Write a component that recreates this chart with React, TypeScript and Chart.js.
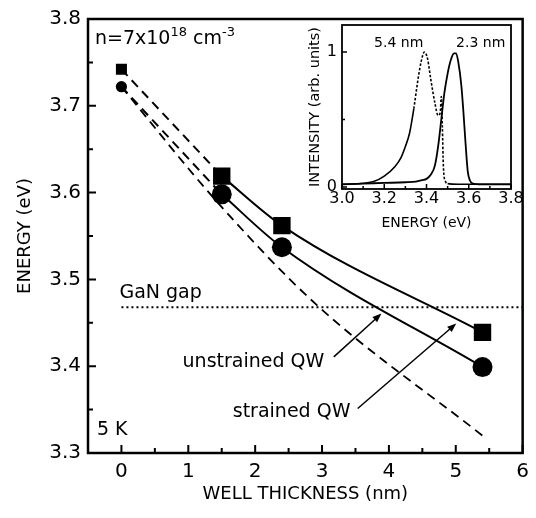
import React, { useEffect, useRef } from "react";
import { Chart, registerables } from "chart.js";

Chart.register(...registerables);

// ---------- main panel data ----------
const WELL_NM = [0, 1.5, 2.4, 5.4];
const SQUARE_EV = [3.742, 3.619, 3.562, 3.439];
const CIRCLE_EV = [3.722, 3.598, 3.537, 3.399];
const LONG_DASH_NM = [0, 1.4, 2.9, 5.4];
const LONG_DASH_EV = [3.722, 3.592, 3.472, 3.32];
const GAN_GAP_EV = 3.468;
const GAN_GAP_NM = [0, 6];
const X_TICKS = [0, 1, 2, 3, 4, 5, 6];
const X_MINOR = [0.5, 1.5, 2.5, 3.5, 4.5, 5.5];
const Y_TICKS = [3.3, 3.4, 3.5, 3.6, 3.7, 3.8];
const Y_MINOR = [3.35, 3.45, 3.55, 3.65, 3.75];

// ---------- inset data ----------
const E_54 = [3.0, 3.05, 3.1, 3.15, 3.2, 3.25, 3.28, 3.3, 3.32, 3.34, 3.36, 3.375, 3.39, 3.405, 3.42, 3.44, 3.455, 3.465, 3.47, 3.475, 3.48, 3.49, 3.5, 3.55, 3.6, 3.7, 3.8];
const I_54 = [0.02, 0.022, 0.028, 0.04, 0.08, 0.15, 0.22, 0.3, 0.4, 0.58, 0.8, 0.93, 1.0, 0.95, 0.8, 0.62, 0.53, 0.55, 0.67, 0.45, 0.15, 0.04, 0.025, 0.02, 0.02, 0.02, 0.02];
const E_23 = [3.0, 3.1, 3.2, 3.3, 3.35, 3.38, 3.4, 3.42, 3.44, 3.455, 3.47, 3.485, 3.5, 3.515, 3.53, 3.54, 3.55, 3.565, 3.575, 3.585, 3.595, 3.605, 3.62, 3.65, 3.7, 3.8];
const I_23 = [0.02, 0.025, 0.03, 0.035, 0.04, 0.05, 0.06, 0.09, 0.16, 0.3, 0.5, 0.7, 0.84, 0.94, 0.99, 0.99, 0.93, 0.75, 0.55, 0.32, 0.12, 0.05, 0.025, 0.02, 0.02, 0.02];
const INSET_X_TICKS = [3.0, 3.2, 3.4, 3.6, 3.8];
const INSET_X_MINOR = [3.1, 3.3, 3.5, 3.7];
const INSET_Y_TICKS = [0, 1];
const INSET_Y_MINOR = [0.5];

const FONT = "'DejaVu Sans', sans-serif";

const pts = (xs: number[], ys: number[]) => xs.map((x, i) => ({ x, y: ys[i] }));

function framePlugin(o: {
  frame: number; tw: number; major: number; minor: number;
  xMajor: number[]; xMinor: number[]; yMajor: number[]; yMinor: number[];
}) {
  return {
    id: "frameTicks",
    afterDraw(chart: any) {
      const { ctx, chartArea: a } = chart;
      const x = chart.scales.x, y = chart.scales.y;
      ctx.save();
      ctx.strokeStyle = "#000";
      ctx.lineWidth = o.tw;
      ctx.beginPath();
      const xt = (v: number, len: number) => {
        const p = x.getPixelForValue(v);
        ctx.moveTo(p, a.bottom);
        ctx.lineTo(p, a.bottom - len);
      };
      const yt = (v: number, len: number) => {
        const p = y.getPixelForValue(v);
        ctx.moveTo(a.left, p);
        ctx.lineTo(a.left + len, p);
      };
      o.xMajor.forEach((v) => xt(v, o.major));
      o.xMinor.forEach((v) => xt(v, o.minor));
      o.yMajor.forEach((v) => yt(v, o.major));
      o.yMinor.forEach((v) => yt(v, o.minor));
      ctx.stroke();
      ctx.lineWidth = o.frame;
      ctx.strokeRect(a.left, a.top, a.right - a.left, a.bottom - a.top);
      ctx.restore();
    },
  };
}

function arrow(ctx: CanvasRenderingContext2D, x0: number, y0: number, x1: number, y1: number) {
  const ang = Math.atan2(y1 - y0, x1 - x0);
  const L = 9, W = 3.5;
  ctx.beginPath();
  ctx.moveTo(x0, y0);
  ctx.lineTo(x1 - Math.cos(ang) * L * 0.8, y1 - Math.sin(ang) * L * 0.8);
  ctx.stroke();
  ctx.beginPath();
  ctx.moveTo(x1, y1);
  ctx.lineTo(x1 - Math.cos(ang) * L - Math.sin(ang) * W, y1 - Math.sin(ang) * L + Math.cos(ang) * W);
  ctx.lineTo(x1 - Math.cos(ang) * L + Math.sin(ang) * W, y1 - Math.sin(ang) * L - Math.cos(ang) * W);
  ctx.closePath();
  ctx.fill();
}

const mainNotes = {
  id: "mainNotes",
  afterDatasetsDraw(chart: any) {
    const { ctx } = chart;
    const X = (v: number) => chart.scales.x.getPixelForValue(v);
    const Y = (v: number) => chart.scales.y.getPixelForValue(v);
    ctx.save();
    ctx.fillStyle = "#000";
    ctx.strokeStyle = "#000";
    ctx.textBaseline = "alphabetic";
    ctx.textAlign = "left";
    const big = `19px ${FONT}`;
    const sup = `13px ${FONT}`;
    ctx.font = big;
    ctx.fillText("GaN gap", X(-0.03), Y(3.478));
    ctx.fillText("unstrained QW", X(0.914), Y(3.399));
    ctx.fillText("strained QW", X(1.665), Y(3.342));
    ctx.fillText("5 K", X(-0.366), Y(3.3207));
    // n = 7x10^18 cm^-3
    let px = X(-0.396);
    const by = Y(3.771);
    ctx.font = big;
    ctx.fillText("n=7x10", px, by);
    px += ctx.measureText("n=7x10").width;
    ctx.font = sup;
    ctx.fillText("18", px, by - 8);
    px += ctx.measureText("18").width;
    ctx.font = big;
    ctx.fillText(" cm", px, by);
    px += ctx.measureText(" cm").width;
    ctx.font = sup;
    ctx.fillText("-3", px, by - 8);
    ctx.lineWidth = 1.5;
    arrow(ctx, X(3.176), Y(3.4107), X(3.888), Y(3.4606));
    arrow(ctx, X(3.533), Y(3.3513), X(5.007), Y(3.4491));
    ctx.restore();
  },
};

const insetNotes = {
  id: "insetNotes",
  afterDatasetsDraw(chart: any) {
    const { ctx } = chart;
    const X = (v: number) => chart.scales.x.getPixelForValue(v);
    const Y = (v: number) => chart.scales.y.getPixelForValue(v);
    ctx.save();
    ctx.fillStyle = "#000";
    ctx.font = `14px ${FONT}`;
    ctx.textBaseline = "alphabetic";
    ctx.textAlign = "right";
    ctx.fillText("5.4 nm", X(3.385), Y(1.04));
    ctx.textAlign = "left";
    ctx.fillText("2.3 nm", X(3.54), Y(1.04));
    ctx.restore();
  },
};

export default function App() {
  const mainRef = useRef<HTMLCanvasElement>(null);
  const insetRef = useRef<HTMLCanvasElement>(null);

  useEffect(() => {
    const dash = [9, 6];
    const main = new Chart(mainRef.current!, {
      type: "scatter",
      data: {
        datasets: [
          {
            data: pts(WELL_NM, SQUARE_EV),
            pointStyle: "rect",
            pointRadius: [7.8, 12.3, 12.3, 12.3],
            backgroundColor: "#000",
            borderWidth: 0,
            showLine: false,
          },
          {
            data: pts(WELL_NM, CIRCLE_EV),
            pointStyle: "circle",
            pointRadius: [5.6, 10, 10, 10],
            backgroundColor: "#000",
            borderWidth: 0,
            showLine: false,
          },
          {
            data: pts(WELL_NM.slice(1), SQUARE_EV.slice(1)),
            showLine: true,
            borderColor: "#000",
            borderWidth: 2,
            pointRadius: 0,
            cubicInterpolationMode: "monotone",
          },
          {
            data: pts(WELL_NM.slice(1), CIRCLE_EV.slice(1)),
            showLine: true,
            borderColor: "#000",
            borderWidth: 2,
            pointRadius: 0,
            cubicInterpolationMode: "monotone",
          },
          {
            data: pts(WELL_NM.slice(0, 2), SQUARE_EV.slice(0, 2)),
            showLine: true,
            borderColor: "#000",
            borderWidth: 2,
            borderDash: dash,
            pointRadius: 0,
          },
          {
            data: pts(WELL_NM.slice(0, 2), CIRCLE_EV.slice(0, 2)),
            showLine: true,
            borderColor: "#000",
            borderWidth: 2,
            borderDash: dash,
            pointRadius: 0,
          },
          {
            data: pts(LONG_DASH_NM, LONG_DASH_EV),
            showLine: true,
            borderColor: "#000",
            borderWidth: 1.8,
            borderDash: dash,
            pointRadius: 0,
            cubicInterpolationMode: "monotone",
          },
          {
            data: GAN_GAP_NM.map((x) => ({ x, y: GAN_GAP_EV })),
            showLine: true,
            borderColor: "#000",
            borderWidth: 2,
            borderDash: [2, 3],
            pointRadius: 0,
          },
        ],
      },
      options: {
        responsive: false,
        animation: false,
        events: [],
        layout: { padding: { top: 18, right: 11, left: 0, bottom: 0 } },
        plugins: { legend: { display: false }, tooltip: { enabled: false } },
        scales: {
          x: {
            type: "linear",
            min: -0.5,
            max: 6,
            afterBuildTicks: (s: any) => { s.ticks = X_TICKS.map((value) => ({ value })); },
            afterFit: (s: any) => { s.height = 65; },
            grid: { display: false, drawTicks: false },
            border: { display: false },
            ticks: { padding: 7, color: "#000", font: { family: FONT, size: 20 }, callback: (v: any) => String(v) },
            title: { display: true, text: "WELL THICKNESS (nm)", color: "#000", font: { family: FONT, size: 18 }, padding: { top: 0, bottom: 13 } },
          },
          y: {
            type: "linear",
            min: 3.3,
            max: 3.8,
            afterBuildTicks: (s: any) => { s.ticks = Y_TICKS.map((value) => ({ value })); },
            afterFit: (s: any) => { s.width = 88; },
            grid: { display: false, drawTicks: false },
            border: { display: false },
            ticks: { padding: 7, color: "#000", font: { family: FONT, size: 20 }, callback: (v: any) => Number(v).toFixed(1) },
            title: { display: true, text: "ENERGY (eV)", color: "#000", font: { family: FONT, size: 18 }, padding: { top: 15, bottom: 0 } },
          },
        },
      },
      plugins: [
        framePlugin({ frame: 2.5, tw: 2, major: 8, minor: 5, xMajor: X_TICKS, xMinor: X_MINOR, yMajor: Y_TICKS, yMinor: Y_MINOR }),
        mainNotes,
      ],
    } as any);

    const inset = new Chart(insetRef.current!, {
      type: "scatter",
      data: {
        datasets: [
          {
            data: pts(E_23, I_23),
            showLine: true,
            borderColor: "#000",
            borderWidth: 1.8,
            pointRadius: 0,
            cubicInterpolationMode: "monotone",
          },
          {
            data: pts(E_54, I_54),
            showLine: true,
            borderColor: "#000",
            borderWidth: 1.6,
            pointRadius: 0,
            cubicInterpolationMode: "monotone",
            segment: { borderDash: (c: any) => (c.p0.parsed.x >= 3.33 && c.p0.parsed.x < 3.5 ? [2.5, 1.8] : undefined) },
          },
        ],
      },
      options: {
        responsive: false,
        animation: false,
        events: [],
        layout: { padding: { top: 15, right: 19, left: 0, bottom: 0 } },
        plugins: { legend: { display: false }, tooltip: { enabled: false } },
        scales: {
          x: {
            type: "linear",
            min: 3.0,
            max: 3.8,
            afterBuildTicks: (s: any) => { s.ticks = INSET_X_TICKS.map((value) => ({ value })); },
            afterFit: (s: any) => { s.height = 53; },
            grid: { display: false, drawTicks: false },
            border: { display: false },
            ticks: { padding: 0, color: "#000", font: { family: FONT, size: 16 }, callback: (v: any) => Number(v).toFixed(1) },
            title: { display: true, text: "ENERGY (eV)", color: "#000", font: { family: FONT, size: 14 }, padding: { top: 0, bottom: 10 } },
          },
          y: {
            type: "linear",
            min: -0.015,
            max: 1.2,
            afterBuildTicks: (s: any) => { s.ticks = INSET_Y_TICKS.map((value) => ({ value })); },
            afterFit: (s: any) => { s.width = 52; },
            grid: { display: false, drawTicks: false },
            border: { display: false },
            ticks: { padding: 5, color: "#000", font: { family: FONT, size: 16 }, callback: (v: any) => String(v) },
            title: { display: true, text: "INTENSITY (arb. units)", color: "#000", font: { family: FONT, size: 14.5 }, padding: { top: 17, bottom: 0 } },
          },
        },
      },
      plugins: [
        framePlugin({ frame: 1.8, tw: 1.5, major: 5, minor: 3, xMajor: INSET_X_TICKS, xMinor: INSET_X_MINOR, yMajor: INSET_Y_TICKS, yMinor: INSET_Y_MINOR }),
        insetNotes,
      ],
    } as any);

    return () => {
      main.destroy();
      inset.destroy();
    };
  }, []);

  return (
    <div style={{ position: "absolute", left: 0, top: 0, width: 536, height: 518, background: "#fff" }}>
      <canvas ref={mainRef} width={536} height={518} style={{ position: "absolute", left: 0, top: 0 }} />
      <canvas ref={insetRef} width={240} height={232} style={{ position: "absolute", left: 290, top: 10 }} />
    </div>
  );
}
